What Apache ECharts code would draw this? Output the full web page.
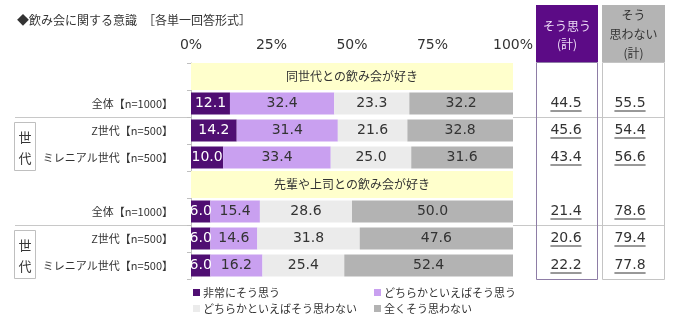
<!DOCTYPE html>
<html>
<head>
<meta charset="utf-8">
<script src="https://cdn.jsdelivr.net/npm/echarts@6/dist/echarts.min.js"></script>
<style>
html,body{margin:0;padding:0;background:#fff;}
#c{width:694px;height:336px;}
</style>
</head>
<body>
<div id="c"></div>
<script>
// Row slots: two question headers, each followed by three respondent groups
const slots = ['h1', 'a1', 'z1', 'm1', 'h2', 'a2', 'z2', 'm2'];
const rowLabels = ['', '全体【n=1000】', 'Z世代【n=500】', 'ミレニアル世代【n=500】',
                   '', '全体【n=1000】', 'Z世代【n=500】', 'ミレニアル世代【n=500】'];
const headers = ['同世代との飲み会が好き', '先輩や上司との飲み会が好き'];
const headerSlots = [0, 4];

const seriesNames = ['非常にそう思う', 'どちらかといえばそう思う', 'どちらかといえばそう思わない', '全くそう思わない'];
const veryAgree        = [null, 12.1, 14.2, 10.0, null, 6.0, 6.0, 6.0];
const somewhatAgree    = [null, 32.4, 31.4, 33.4, null, 15.4, 14.6, 16.2];
const somewhatDisagree = [null, 23.3, 21.6, 25.0, null, 28.6, 31.8, 25.4];
const stronglyDisagree = [null, 32.2, 32.8, 31.6, null, 50.0, 47.6, 52.4];

// Totals shown in the two right-hand columns
const agreeTotal    = [null, 44.5, 45.6, 43.4, null, 21.4, 20.6, 22.2];
const disagreeTotal = [null, 55.5, 54.4, 56.6, null, 78.6, 79.4, 77.8];
const totalColumns = ['そう思う\n(計)', 'そう\n思わない\n(計)'];

const xTicks = [0, 25, 50, 75, 100];

const colors = ['#4F0E72', '#C9A0F0', '#EBEBEB', '#B3B3B3'];
const JP = '"Noto Sans CJK JP", sans-serif';
const NUM = '"DejaVu Sans", sans-serif';

const chart = echarts.init(document.getElementById('c'), null, { renderer: 'canvas' });

const bandData = slots.map((s, i) => headerSlots.indexOf(i) >= 0 ? 100 : null);

const stackSeries = [veryAgree, somewhatAgree, somewhatDisagree, stronglyDisagree].map((arr, k) => ({
  name: seriesNames[k],
  type: 'bar',
  stack: 'all',
  xAxisIndex: 0,
  yAxisIndex: 0,
  barWidth: 22,
  data: arr,
  itemStyle: { color: colors[k] },
  label: {
    show: true,
    position: 'inside',
    formatter: p => p.value == null ? '' : p.value.toFixed(1),
    fontFamily: NUM,
    fontSize: 14,
    color: k === 0 ? '#ffffff' : '#333333'
  },
  emphasis: { disabled: true }
}));

// measure text for underlines
const measureCtx = document.createElement('canvas').getContext('2d');
function textWidth(t, font) { measureCtx.font = font; return measureCtx.measureText(t).width; }

const totalsData = [];
slots.forEach((s, i) => {
  if (agreeTotal[i] != null) totalsData.push([0, i, agreeTotal[i]]);
  if (disagreeTotal[i] != null) totalsData.push([1, i, disagreeTotal[i]]);
});

const numFont = '14px "DejaVu Sans", sans-serif';

const option = {
  animation: false,
  backgroundColor: '#ffffff',
  title: {
    text: '◆飲み会に関する意識　［各単一回答形式］',
    left: 12,
    top: 9,
    textStyle: { fontFamily: JP, fontSize: 12, fontWeight: 'normal', color: '#333333' }
  },
  legend: [
    {
      data: [seriesNames[0], seriesNames[2]],
      orient: 'vertical',
      left: 188,
      top: 282,
      itemWidth: 7,
      itemHeight: 7,
      itemGap: 5,
      icon: 'rect',
      textStyle: { fontFamily: JP, fontSize: 11, color: '#333333', padding: [0, 0, 0, -2] },
      selectedMode: false
    },
    {
      data: [seriesNames[1], seriesNames[3]],
      orient: 'vertical',
      left: 369,
      top: 282,
      itemWidth: 7,
      itemHeight: 7,
      itemGap: 5,
      icon: 'rect',
      textStyle: { fontFamily: JP, fontSize: 11, color: '#333333', padding: [0, 0, 0, -2] },
      selectedMode: false
    }
  ],
  grid: [
    { left: 191, width: 322, top: 63, height: 216 },
    { left: 537, width: 128, top: 63, height: 216 }
  ],
  xAxis: [
    {
      gridIndex: 0,
      type: 'value',
      position: 'top',
      min: xTicks[0],
      max: xTicks[xTicks.length - 1],
      interval: xTicks[1] - xTicks[0],
      axisLine: { show: false },
      axisTick: { show: false },
      splitLine: { show: false },
      axisLabel: { formatter: '{value}%', fontFamily: NUM, fontSize: 14, color: '#333333', margin: 11 }
    },
    {
      gridIndex: 1,
      type: 'category',
      data: totalColumns,
      show: false
    }
  ],
  yAxis: [
    {
      gridIndex: 0,
      type: 'category',
      inverse: true,
      data: slots,
      axisLine: { show: true, lineStyle: { color: '#BFBFBF' } },
      axisTick: { show: true, length: 4, lineStyle: { color: '#BFBFBF' } },
      axisLabel: {
        formatter: (v, i) => rowLabels[i],
        fontFamily: JP,
        fontSize: 11,
        color: '#333333',
        margin: 18
      }
    },
    {
      gridIndex: 0,
      type: 'category',
      inverse: true,
      data: slots,
      show: false
    },
    {
      gridIndex: 1,
      type: 'category',
      inverse: true,
      data: slots,
      show: false
    }
  ],
  series: [
    {
      name: 'header',
      type: 'bar',
      xAxisIndex: 0,
      yAxisIndex: 1,
      barWidth: 27,
      data: bandData,
      itemStyle: { color: '#FFFFCC' },
      silent: true,
      label: {
        show: true,
        position: 'inside',
        formatter: p => headers[headerSlots.indexOf(p.dataIndex)] || '',
        fontFamily: JP,
        fontSize: 12,
        color: '#333333'
      },
      z: 1
    },
    ...stackSeries,
    {
      name: 'totals',
      type: 'custom',
      xAxisIndex: 1,
      yAxisIndex: 2,
      data: totalsData,
      silent: true,
      renderItem: function (params, api) {
        const p = api.coord([api.value(0), api.value(1)]);
        const t = api.value(2).toFixed(1);
        const w = textWidth(t, numFont);
        const cx = p[0] - 3;
        return {
          type: 'group',
          children: [
            {
              type: 'text',
              x: cx, y: p[1],
              style: { text: t, font: numFont, fill: '#333333', align: 'center', verticalAlign: 'middle' }
            },
            {
              type: 'line',
              shape: { x1: cx - w / 2, y1: p[1] + 7.5, x2: cx + w / 2, y2: p[1] + 7.5 },
              style: { stroke: '#333333', lineWidth: 1 }
            }
          ]
        };
      }
    }
  ]
};

chart.setOption(option);

// Decorations positioned from the category axis
const ys = slots.map((s, i) => chart.convertToPixel({ yAxisIndex: 0 }, i));
const gridBottom = 279;
const sep1 = Math.round((ys[1] + ys[2]) / 2) + 0.5;
const sep2 = Math.round((ys[5] + ys[6]) / 2) + 0.5;
const lineStyle = { stroke: '#C8C8C8', lineWidth: 1 };

const graphics = [
  // column headers
  { type: 'rect', shape: { x: 536, y: 5, width: 62, height: 57 }, style: { fill: '#5C0B86' } },
  { type: 'text', x: 567, y: 35, style: { text: 'そう思う\n(計)', font: '12px ' + JP, fill: '#EEDDF7', align: 'center', verticalAlign: 'middle', lineHeight: 18 } },
  { type: 'rect', shape: { x: 602, y: 5, width: 63, height: 57 }, style: { fill: '#B4B4B4' } },
  { type: 'text', x: 633.5, y: 34, style: { text: 'そう\n思わない\n(計)', font: '12px ' + JP, fill: '#333333', align: 'center', verticalAlign: 'middle', lineHeight: 19 } },
  // column bodies
  { type: 'rect', shape: { x: 536.5, y: 62.5, width: 61, height: gridBottom - 62 }, style: { fill: 'none', stroke: '#8E7DA6', lineWidth: 1 }, z: 10 },
  { type: 'rect', shape: { x: 602.5, y: 62.5, width: 62, height: gridBottom - 62 }, style: { fill: 'none', stroke: '#C4C4C4', lineWidth: 1 }, z: 10 },
  // separators under the overall rows
  { type: 'line', shape: { x1: 15, y1: sep1, x2: 190, y2: sep1 }, style: lineStyle },
  { type: 'line', shape: { x1: 513, y1: sep1, x2: 664, y2: sep1 }, style: lineStyle },
  { type: 'line', shape: { x1: 15, y1: sep2, x2: 190, y2: sep2 }, style: lineStyle },
  { type: 'line', shape: { x1: 513, y1: sep2, x2: 664, y2: sep2 }, style: lineStyle }
];

// "世代" boxes beside the generation rows
[[2, 3], [6, 7]].forEach(([a, b]) => {
  const top = Math.round(ys[a] - 8.5) + 0.5;
  const bottom = Math.round(ys[b] + 12) + 0.5;
  graphics.push({ type: 'rect', shape: { x: 14.5, y: top, width: 21, height: bottom - top }, style: { fill: 'none', stroke: '#BFBFBF', lineWidth: 1 } });
  graphics.push({ type: 'text', x: 25, y: ys[a] + 7, style: { text: '世', font: '13px ' + JP, fill: '#333333', align: 'center', verticalAlign: 'middle' } });
  graphics.push({ type: 'text', x: 25, y: ys[b] + 1, style: { text: '代', font: '13px ' + JP, fill: '#333333', align: 'center', verticalAlign: 'middle' } });
});

chart.setOption({ graphic: graphics.map(g => Object.assign({ silent: true }, g)) });
</script>
</body>
</html>
